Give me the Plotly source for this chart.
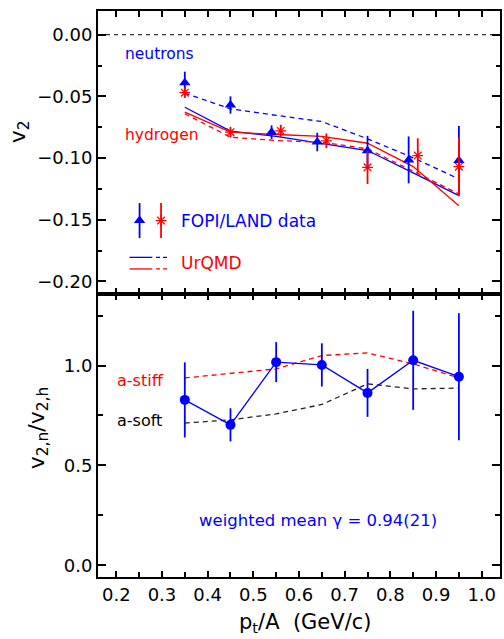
import plotly.graph_objects as go

# ---------------- data ----------------
# top panel: FOPI/LAND data
pt_n = [0.35, 0.45, 0.54, 0.64, 0.75, 0.84, 0.95]
v2_n = [-0.039, -0.057, -0.079, -0.087, -0.094, -0.1015, -0.102]
err_n = [0.009, 0.007, 0.0055, 0.0075, 0.012, 0.019, 0.028]

pt_h = [0.35, 0.45, 0.56, 0.66, 0.75, 0.86, 0.95]
v2_h = [-0.047, -0.079, -0.078, -0.086, -0.1075, -0.098, -0.107]
err_h = [0.004, 0.004, 0.005, 0.006, 0.0135, 0.014, 0.024]

# top panel: UrQMD curves
pt_u = [0.35, 0.45, 0.55, 0.65, 0.75, 0.85, 0.95]
urqmd_n_solid = [-0.0588, -0.0782, -0.0825, -0.0885, -0.0939, -0.112, -0.1304]
urqmd_n_dash = [-0.0474, -0.0601, -0.0654, -0.0704, -0.0844, -0.0998, -0.1169]
urqmd_h_solid = [-0.0628, -0.079, -0.0809, -0.0825, -0.088, -0.1069, -0.1386]
urqmd_h_dash = [-0.0641, -0.0831, -0.0858, -0.0872, -0.0925, -0.111, -0.129]

# bottom panel: ratio v2,n / v2,h
pt_r = [0.35, 0.45, 0.55, 0.65, 0.75, 0.85, 0.95]
ratio = [0.828, 0.703, 1.017, 1.003, 0.863, 1.026, 0.944]
err_r = [0.188, 0.083, 0.10, 0.108, 0.12, 0.248, 0.318]
ratio_stiff = [0.938, 0.962, 0.983, 1.05, 1.063, 1.008, 0.938]
ratio_soft = [0.712, 0.728, 0.758, 0.805, 0.908, 0.883, 0.887]

# in-plot legend glyph anchors (top panel data coords)
leg_mark_x = [0.251, 0.298]
leg_mark_y = -0.1507
leg_mark_err = 0.0142
leg_solid_x = [0.229, 0.279]
leg_dash_x = [0.287, 0.312]
leg_line_y = [-0.1805, -0.1899]

BLUE = "#0000ff"
RED = "#ff0000"
FONT = "DejaVu Sans"

fig = go.Figure()

# UrQMD lines
fig.add_trace(go.Scatter(x=pt_u, y=urqmd_n_dash, mode="lines",
                         line=dict(color=BLUE, width=1.3, dash="5px,4px"), xaxis="x", yaxis="y"))
fig.add_trace(go.Scatter(x=pt_u, y=urqmd_n_solid, mode="lines",
                         line=dict(color=BLUE, width=1.3), xaxis="x", yaxis="y"))
fig.add_trace(go.Scatter(x=pt_u, y=urqmd_h_dash, mode="lines",
                         line=dict(color=RED, width=1.3, dash="5px,4px"), xaxis="x", yaxis="y"))
fig.add_trace(go.Scatter(x=pt_u, y=urqmd_h_solid, mode="lines",
                         line=dict(color=RED, width=1.3), xaxis="x", yaxis="y"))

# data points
fig.add_trace(go.Scatter(x=pt_n, y=v2_n, mode="markers",
                         marker=dict(symbol="triangle-up", size=10, color=BLUE),
                         error_y=dict(type="data", array=err_n, color=BLUE, thickness=1.8, width=0),
                         xaxis="x", yaxis="y"))
fig.add_trace(go.Scatter(x=pt_h, y=v2_h, mode="markers",
                         marker=dict(symbol="asterisk-open", size=9, color=RED,
                                     line=dict(color=RED, width=1.2)),
                         error_y=dict(type="data", array=err_h, color=RED, thickness=1.8, width=0),
                         xaxis="x", yaxis="y"))

# legend glyphs
fig.add_trace(go.Scatter(x=[leg_mark_x[0]], y=[leg_mark_y], mode="markers",
                         marker=dict(symbol="triangle-up", size=10, color=BLUE),
                         error_y=dict(type="constant", value=leg_mark_err, color=BLUE, thickness=1.8, width=0),
                         xaxis="x", yaxis="y"))
fig.add_trace(go.Scatter(x=[leg_mark_x[1]], y=[leg_mark_y], mode="markers",
                         marker=dict(symbol="asterisk-open", size=9, color=RED,
                                     line=dict(color=RED, width=1.2)),
                         error_y=dict(type="constant", value=leg_mark_err, color=RED, thickness=1.8, width=0),
                         xaxis="x", yaxis="y"))
for yy, col in zip(leg_line_y, [BLUE, RED]):
    fig.add_trace(go.Scatter(x=leg_solid_x, y=[yy, yy], mode="lines",
                             line=dict(color=col, width=1.3), xaxis="x", yaxis="y"))
    fig.add_trace(go.Scatter(x=leg_dash_x, y=[yy, yy], mode="lines",
                             line=dict(color=col, width=1.3, dash="4px,3px"), xaxis="x", yaxis="y"))

# bottom panel
fig.add_trace(go.Scatter(x=pt_r, y=ratio_stiff, mode="lines",
                         line=dict(color=RED, width=1.3, dash="5px,4px"), xaxis="x2", yaxis="y2"))
fig.add_trace(go.Scatter(x=pt_r, y=ratio_soft, mode="lines",
                         line=dict(color="#222222", width=1.3, dash="5px,4px"), xaxis="x2", yaxis="y2"))
fig.add_trace(go.Scatter(x=pt_r, y=ratio, mode="lines+markers",
                         line=dict(color=BLUE, width=1.3),
                         marker=dict(symbol="circle", size=10, color=BLUE),
                         error_y=dict(type="data", array=err_r, color=BLUE, thickness=1.8, width=0),
                         xaxis="x2", yaxis="y2"))

# zero line
fig.add_shape(type="line", xref="paper", x0=0, x1=1, yref="y", y0=0, y1=0,
              line=dict(color="black", width=1, dash="4px,4px"))

axis_common = dict(showline=True, linewidth=2, linecolor="black", mirror="allticks",
                   ticks="inside", tickcolor="black", tickwidth=1.5,
                   showgrid=False, zeroline=False)
XR = [0.16, 1.04]

fig.update_layout(
    width=504, height=639,
    margin=dict(l=98, r=2, t=11, b=62),
    paper_bgcolor="white", plot_bgcolor="white",
    showlegend=False,
    font=dict(family=FONT, size=18, color="black"),
    xaxis=dict(domain=[0, 1], anchor="y", range=XR, tick0=0.2, dtick=0.05, ticklen=6,
               showticklabels=False, **axis_common),
    yaxis=dict(domain=[0.5, 1], anchor="x", range=[-0.2102, 0.0192], tick0=0, dtick=0.05,
               tickformat=".2f", ticklen=8,
               minor=dict(dtick=0.025, tick0=0, ticks="inside", ticklen=4, tickcolor="black", tickwidth=1.5),
               **axis_common),
    xaxis2=dict(domain=[0, 1], anchor="y2", range=XR, tick0=0.2, dtick=0.1, tickformat=".1f",
                ticklen=6,
                minor=dict(dtick=0.05, tick0=0.2, ticks="inside", ticklen=5, tickcolor="black", tickwidth=1.5),
                **axis_common),
    yaxis2=dict(domain=[0, 0.5], anchor="x2", range=[-0.0585, 1.358], tick0=0, dtick=0.5,
                tickformat=".1f", ticklen=8,
                minor=dict(dtick=0.25, tick0=0, ticks="inside", ticklen=5, tickcolor="black", tickwidth=1.5),
                **axis_common),
)

ann = []
# texts in top panel
ann.append(dict(text="neutrons", x=0.2137, y=-0.016, xref="x", yref="y", xanchor="left",
                yanchor="middle", showarrow=False, font=dict(size=15.5, color=BLUE)))
ann.append(dict(text="hydrogen", x=0.2137, y=-0.0817, xref="x", yref="y", xanchor="left",
                yanchor="middle", showarrow=False, font=dict(size=15.5, color=RED)))
ann.append(dict(text="FOPI/LAND data", x=0.338, y=-0.1507, xref="x", yref="y", xanchor="left",
                yanchor="middle", showarrow=False, font=dict(size=17, color=BLUE)))
ann.append(dict(text="UrQMD", x=0.338, y=-0.1848, xref="x", yref="y", xanchor="left",
                yanchor="middle", showarrow=False, font=dict(size=17, color=RED)))
# texts in bottom panel
ann.append(dict(text="a-stiff", x=0.1963, y=0.925, xref="x2", yref="y2", xanchor="left",
                yanchor="middle", showarrow=False, font=dict(size=16, color=RED)))
ann.append(dict(text="a-soft", x=0.1963, y=0.725, xref="x2", yref="y2", xanchor="left",
                yanchor="middle", showarrow=False, font=dict(size=16, color="black")))
ann.append(dict(text="weighted mean γ = 0.94(21)", x=0.377, y=0.225, xref="x2", yref="y2",
                xanchor="left", yanchor="middle", showarrow=False, font=dict(size=16.5, color=BLUE)))
# axis titles
ann.append(dict(text="v<sub>2</sub>", x=-0.1966, y=0.7875, xref="paper", yref="paper",
                textangle=-90, xanchor="center", yanchor="middle", showarrow=False,
                font=dict(size=22)))
ann.append(dict(text="v<sub>2,n</sub>/v<sub>2,h</sub>", x=-0.1495, y=0.2627, xref="paper",
                yref="paper", textangle=-90, xanchor="center", yanchor="middle",
                showarrow=False, font=dict(size=22)))
ann.append(dict(text="p<sub>t</sub>/A  (GeV/c)", x=0.515, y=-0.0805, xref="paper", yref="paper",
                xanchor="center", yanchor="middle", showarrow=False, font=dict(size=21)))
fig.update_layout(annotations=ann)

fig.write_html("out.html")
